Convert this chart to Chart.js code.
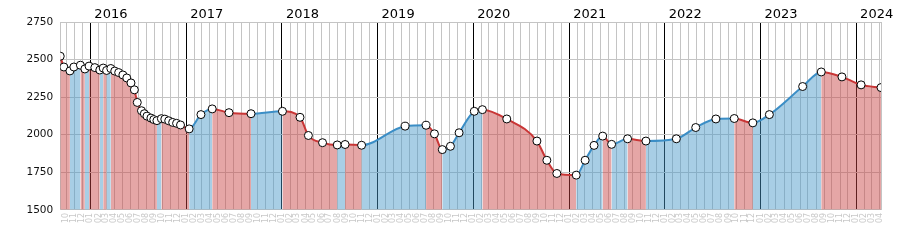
<!DOCTYPE html>
<html>
<head>
<meta charset="utf-8">
<script src="https://cdn.jsdelivr.net/npm/chart.js@4.4.1/dist/chart.umd.min.js"></script>
<style>
  html, body { margin: 0; padding: 0; background: #fff; }
  #wrap { width: 900px; height: 250px; }
</style>
</head>
<body>
<div id="wrap"><canvas id="chart"></canvas></div>
<script>
// data
const dates = [
  "2015-09-08", "2015-09-22", "2015-10-15", "2015-10-30", "2015-11-24",
  "2015-12-11", "2015-12-27", "2016-01-18", "2016-02-06", "2016-02-19",
  "2016-03-03", "2016-03-19", "2016-04-03", "2016-04-18", "2016-05-04",
  "2016-05-19", "2016-06-04", "2016-06-17", "2016-06-28", "2016-07-14",
  "2016-07-25", "2016-08-04", "2016-08-19", "2016-08-30", "2016-09-11",
  "2016-09-28", "2016-10-11", "2016-10-26", "2016-11-10", "2016-11-25",
  "2016-12-10", "2017-01-12", "2017-02-26", "2017-04-10", "2017-06-13",
  "2017-09-05", "2018-01-03", "2018-03-11", "2018-04-12", "2018-06-05",
  "2018-07-31", "2018-08-30", "2018-11-01", "2019-04-16", "2019-07-05",
  "2019-08-06", "2019-09-05", "2019-10-06", "2019-11-08", "2020-01-05",
  "2020-02-05", "2020-05-08", "2020-08-31", "2020-10-08", "2020-11-15",
  "2021-01-28", "2021-03-03", "2021-04-06", "2021-05-09", "2021-06-12",
  "2021-08-12", "2021-10-21", "2022-02-14", "2022-04-29", "2022-07-15",
  "2022-09-23", "2022-12-03", "2023-02-04", "2023-06-11", "2023-08-21",
  "2023-11-08", "2024-01-20", "2024-04-05"
];
const values = [
  2523, 2451, 2425, 2451, 2463,
  2438, 2457, 2447, 2431, 2444,
  2428, 2441, 2424, 2414, 2398,
  2378, 2345, 2299, 2215, 2160,
  2140, 2124, 2111, 2101, 2094,
  2107, 2104, 2093, 2082, 2076,
  2065, 2039, 2134, 2172, 2147,
  2140, 2156, 2116, 1995, 1947,
  1932, 1935, 1930, 2057, 2063,
  2006, 1901, 1923, 2013, 2156,
  2167, 2105, 1958, 1830, 1742,
  1731, 1830, 1929, 1991, 1936,
  1973, 1958, 1973, 2048, 2105,
  2108, 2079, 2134, 2321, 2418,
  2385, 2332, 2314
];
const monthLabels = ["01", "02", "03", "04", "05", "06", "07", "08", "09", "10", "11", "12"];
const yearLabels = ["2016", "2017", "2018", "2019", "2020", "2021", "2022", "2023", "2024"];
const yMin = 1500;
const yMax = 2750;
const yStep = 250;

const upLine = "#3b8ec6";
const downLine = "#c93636";
const upFill = "rgba(70, 150, 200, 0.47)";
const downFill = "rgba(200, 66, 66, 0.47)";
const gridGray = "#c4c4c4";

const BASE = Date.UTC(2016, 0, 1);
function dayOf(str) {
  const p = str.split("-").map(Number);
  return (Date.UTC(p[0], p[1] - 1, p[2]) - BASE) / 86400000;
}
function dateOfDay(d) {
  return new Date(BASE + Math.round(d) * 86400000);
}

const xMin = dayOf(dates[0]);
const xMax = dayOf(dates[dates.length - 1]);

// month starts inside the range
const monthTicks = [];
for (let y = 2015; y <= 2024; y++) {
  for (let m = 0; m < 12; m++) {
    const d = (Date.UTC(y, m, 1) - BASE) / 86400000;
    if (d >= xMin && d <= xMax) monthTicks.push(d);
  }
}
const yearTicks = yearLabels.map((y) => dayOf(y + "-01-01"));

function isJan(v) {
  return dateOfDay(v).getUTCMonth() === 0;
}

const points = dates.map((d, i) => ({ x: dayOf(d), y: values[i] }));
const rising = (ctx) => ctx.p1.parsed.y >= ctx.p0.parsed.y;

const ctx = document.getElementById("chart").getContext("2d");
new Chart(ctx, {
  type: "line",
  data: {
    datasets: [
      {
        data: points,
        borderWidth: 2,
        borderColor: upLine,
        backgroundColor: upFill,
        fill: "start",
        cubicInterpolationMode: "monotone",
        pointRadius: 4,
        pointBorderWidth: 1,
        pointBorderColor: "#000",
        pointBackgroundColor: "#fff",
        segment: {
          borderColor: (c) => (rising(c) ? upLine : downLine),
          backgroundColor: (c) => (rising(c) ? upFill : downFill),
        },
      },
    ],
  },
  options: {
    responsive: true,
    maintainAspectRatio: false,
    animation: false,
    layout: {
      padding: { left: 19.5, right: 19, top: 6.5, bottom: 24 },
    },
    plugins: {
      legend: { display: false },
      tooltip: { enabled: false },
    },
    font: { family: "'DejaVu Sans', Verdana, sans-serif" },
    scales: {
      x: {
        type: "linear",
        position: "bottom",
        min: xMin,
        max: xMax,
        afterBuildTicks: (scale) => {
          scale.ticks = monthTicks.map((v) => ({ value: v }));
        },
        ticks: {
          autoSkip: false,
          minRotation: 90,
          maxRotation: 90,
          padding: 3,
          color: "#c8c8c8",
          font: { family: "'DejaVu Sans'", size: 8 },
          callback: (v) => monthLabels[dateOfDay(v).getUTCMonth()],
        },
        grid: {
          drawTicks: false,
          lineWidth: 1,
          // january lines black, other months light gray
          color: (c) => (c.tick && isJan(c.tick.value) ? "#000" : gridGray),
        },
        border: { color: gridGray },
      },
      x2: {
        type: "linear",
        position: "top",
        min: xMin,
        max: xMax,
        afterBuildTicks: (scale) => {
          scale.ticks = yearTicks.map((v) => ({ value: v }));
        },
        ticks: {
          autoSkip: false,
          maxRotation: 0,
          align: "start",
          labelOffset: 4,
          padding: 0,
          color: "#000",
          font: { family: "'DejaVu Sans'", size: 13 },
          callback: (v, i) => yearLabels[i],
        },
        grid: { display: false, drawTicks: false },
        border: { display: false },
      },
      y: {
        min: yMin,
        max: yMax,
        ticks: {
          stepSize: yStep,
          padding: 7,
          color: "#111",
          font: { family: "'DejaVu Sans'", size: 10.5 },
          callback: (v) => String(v),
        },
        grid: { color: gridGray, lineWidth: 1, drawTicks: false },
        border: { color: gridGray },
      },
      yR: {
        position: "right",
        min: yMin,
        max: yMax,
        ticks: { display: false },
        grid: { display: false, drawTicks: false },
        border: { color: gridGray },
      },
    },
  },
});
</script>
</body>
</html>
